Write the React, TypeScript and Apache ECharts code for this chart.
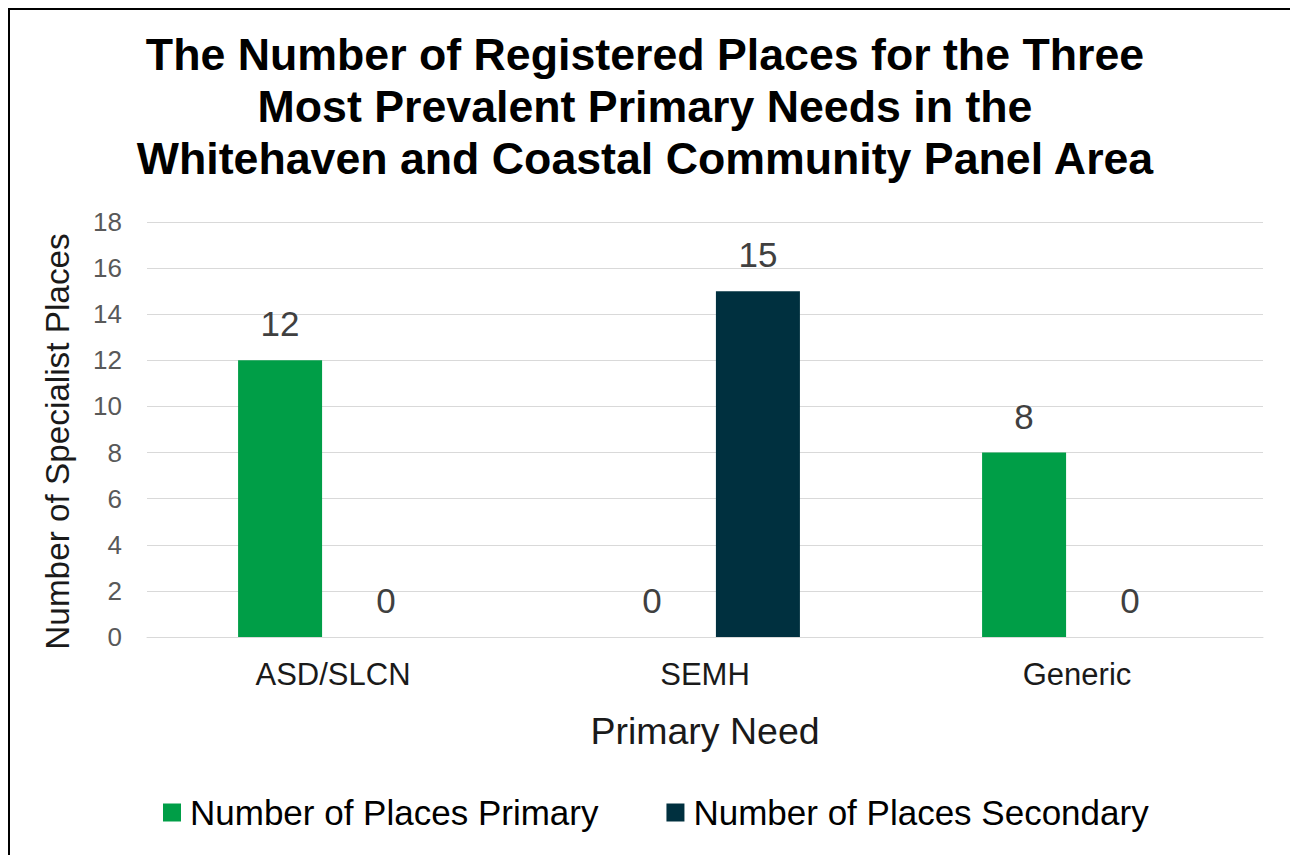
import React, { useEffect, useRef } from "react";
import * as echarts from "echarts";

const titleText =
  "The Number of Registered Places for the Three\nMost Prevalent Primary Needs in the\nWhitehaven and Coastal Community Panel Area";
const categories = ["ASD/SLCN", "SEMH", "Generic"];
const seriesNames = ["Number of Places Primary", "Number of Places Secondary"];
const primaryValues = [12, 0, 8];
const secondaryValues = [0, 15, 0];
const colors = ["#009E47", "#00303F"];

export default function App() {
  const ref = useRef<HTMLDivElement>(null);
  useEffect(() => {
    if (!ref.current) return;
    const chart = echarts.init(ref.current, null, { renderer: "svg" });
    const font = "'Liberation Sans', Arial, sans-serif";
    const label = {
      show: true,
      position: "top",
      distance: 19,
      fontFamily: font,
      fontSize: 35,
      color: "#404040",
    };
    chart.setOption({
      animation: false,
      backgroundColor: "#ffffff",
      textStyle: { fontFamily: font },
      title: {
        text: titleText,
        left: "center",
        top: 23,
        textStyle: {
          fontFamily: font,
          fontSize: 44.7,
          fontWeight: "bold",
          color: "#000000",
          lineHeight: 52,
        },
      },
      graphic: [
        {
          type: "line",
          shape: { x1: 9, y1: 8, x2: 9, y2: 855 },
          style: { stroke: "#000", lineWidth: 2 },
        },
        {
          type: "line",
          shape: { x1: 8, y1: 9, x2: 1290, y2: 9 },
          style: { stroke: "#000", lineWidth: 2 },
        },
      ],
      legend: {
        bottom: 20,
        left: 158,
        itemWidth: 18,
        itemHeight: 18,
        itemGap: 68,
        icon: "rect",
        textStyle: { fontFamily: font, fontSize: 35, color: "#000000", padding: [0, 0, 0, 4] },
        data: seriesNames,
      },
      grid: { left: 147, right: 27, top: 222, bottom: 218 },
      xAxis: {
        type: "category",
        data: categories,
        axisLine: { lineStyle: { color: "#d9d9d9" } },
        axisTick: { show: false },
        axisLabel: { fontFamily: font, fontSize: 31, color: "#1a1a1a", margin: 22 },
        name: "Primary Need",
        nameLocation: "middle",
        nameGap: 75,
        nameTextStyle: { fontFamily: font, fontSize: 37.5, color: "#1a1a1a" },
      },
      yAxis: {
        type: "value",
        min: 0,
        max: 18,
        interval: 2,
        axisLine: { show: false },
        axisTick: { show: false },
        splitLine: { lineStyle: { color: "#d9d9d9", width: 1 } },
        axisLabel: { fontFamily: font, fontSize: 26, color: "#595959", margin: 25 },
        name: "Number of Specialist Places",
        nameLocation: "middle",
        nameGap: 73,
        nameTextStyle: {
          fontFamily: font,
          fontSize: 33.3,
          color: "#1a1a1a",
          padding: [0, 24, 0, 0],
        },
      },
      series: [
        {
          name: seriesNames[0],
          type: "bar",
          data: primaryValues,
          barWidth: 84,
          barGap: "26%",
          itemStyle: { color: colors[0] },
          label,
        },
        {
          name: seriesNames[1],
          type: "bar",
          data: secondaryValues,
          barWidth: 84,
          barGap: "26%",
          itemStyle: { color: colors[1] },
          label,
        },
      ],
    });
    return () => chart.dispose();
  }, []);
  return (
    <div
      ref={ref}
      style={{ position: "absolute", left: 0, top: 0, width: 1290, height: 855 }}
    />
  );
}
